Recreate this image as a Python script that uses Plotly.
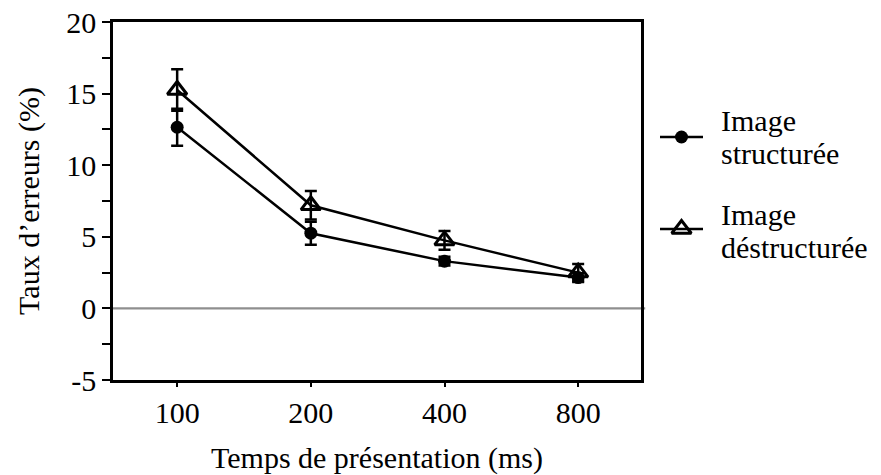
import plotly.graph_objects as go

# Presentation durations (ms) and error rates (%)
durations = ["100", "200", "400", "800"]
structured = [12.65, 5.25, 3.3, 2.15]
structured_err = [1.3, 0.8, 0.3, 0.3]
destructured = [15.25, 7.2, 4.75, 2.5]
destructured_err = [1.45, 1.0, 0.65, 0.6]

series_names = ["Image structurée", "Image déstructurée"]
legend_lines = [["Image", "structurée"], ["Image", "déstructurée"]]

y_ticks = [-5, -2.5, 0, 2.5, 5, 7.5, 10, 12.5, 15, 17.5, 20]
y_ticklabels = ["-5", "", "0", "", "5", "", "10", "", "15", "", "20"]

FONT = "Liberation Serif"
W, H = 881, 475
ML, MT, MB = 113, 22, 95
PLOT_W = W - ML            # plotting region spans to the right edge
PLOT_H = H - MT - MB
MAIN_RIGHT = 641           # right edge of the framed chart (px)
KEY_LEFT_EDGE = 650        # left edge of the helper axis holding legend keys


def px_x(px):
    return (px - ML) / PLOT_W


def px_y(py):
    return (H - MB - py) / PLOT_H


circle_marker = dict(symbol="circle", size=13, color="black")
triangle_marker = dict(symbol="triangle-up-open", size=17, color="black",
                       line=dict(width=3, color="black"))
line_style = dict(color="black", width=2.5)

fig = go.Figure()

fig.add_trace(go.Scatter(
    x=durations, y=structured, mode="lines+markers", name=series_names[0],
    line=line_style, marker=circle_marker, showlegend=False,
    error_y=dict(type="data", array=structured_err, color="black",
                 thickness=2.5, width=6),
))
fig.add_trace(go.Scatter(
    x=durations, y=destructured, mode="lines+markers", name=series_names[1],
    line=line_style, marker=triangle_marker, showlegend=False,
    error_y=dict(type="data", array=destructured_err, color="black",
                 thickness=2.5, width=6),
))

# Legend keys drawn on a hidden helper axis to the right of the frame
key_left, key_right = 660, 703
key_rows = [137, 229]
key_markers = [circle_marker, triangle_marker]
span = W - KEY_LEFT_EDGE
for row, mk in zip(key_rows, key_markers):
    x0 = (key_left - KEY_LEFT_EDGE) / span
    x1 = (key_right - KEY_LEFT_EDGE) / span
    yv = px_y(row)
    # line segment of the key
    fig.add_trace(go.Scatter(
        x=[x0, x1], y=[yv, yv], xaxis="x2", yaxis="y2", mode="lines",
        line=line_style, showlegend=False, hoverinfo="skip", cliponaxis=False,
    ))
    # marker of the key
    fig.add_trace(go.Scatter(
        x=[(x0 + x1) / 2], y=[yv], xaxis="x2", yaxis="y2", mode="markers",
        marker=mk, showlegend=False, hoverinfo="skip", cliponaxis=False,
    ))

# Legend text, one annotation per line
text_rows = [[120, 153], [214, 247]]
for lines, rows in zip(legend_lines, text_rows):
    for txt, r in zip(lines, rows):
        fig.add_annotation(
            x=px_x(720), y=px_y(r), xref="paper", yref="paper",
            text=txt, showarrow=False, xanchor="left", yanchor="middle",
            font=dict(family=FONT, size=30, color="black"),
            borderpad=0,
        )

# grey reference line at zero
fig.add_shape(type="line", xref="x domain", yref="y", x0=0, x1=1.008, y0=0, y1=0,
              line=dict(color="#8f8f8f", width=2.2), layer="below")

main_frac = (MAIN_RIGHT - ML) / PLOT_W

fig.update_layout(
    width=W, height=H,
    margin=dict(l=ML, r=0, t=MT, b=MB),
    paper_bgcolor="white", plot_bgcolor="rgba(0,0,0,0)",
    font=dict(family=FONT, size=30, color="black"),
    showlegend=False,
    xaxis=dict(
        domain=[0, main_frac],
        type="category", range=[-0.48, 3.47],
        showline=True, linecolor="black", linewidth=2.5, mirror=True,
        ticks="outside", ticklen=4, tickwidth=2, tickcolor="black",
        showgrid=False, zeroline=False,
        tickfont=dict(family=FONT, size=30),
        title=dict(text="Temps de présentation (ms)",
                   font=dict(family=FONT, size=30), standoff=26),
    ),
    yaxis=dict(
        range=[-5, 20],
        tickmode="array", tickvals=y_ticks, ticktext=y_ticklabels,
        showline=True, linecolor="black", linewidth=2.5, mirror=True,
        ticks="outside", ticklen=8, tickwidth=2, tickcolor="black",
        showgrid=False, zeroline=False,
        tickfont=dict(family=FONT, size=30),
        title=dict(text="Taux d’erreurs (%)",
                   font=dict(family=FONT, size=30), standoff=18),
    ),
    xaxis2=dict(domain=[px_x(KEY_LEFT_EDGE), 1], range=[0, 1], anchor="y2",
                visible=False, fixedrange=True),
    yaxis2=dict(domain=[0, 1], range=[0, 1], anchor="x2",
                visible=False, fixedrange=True),
)

fig.write_html("out.html")
